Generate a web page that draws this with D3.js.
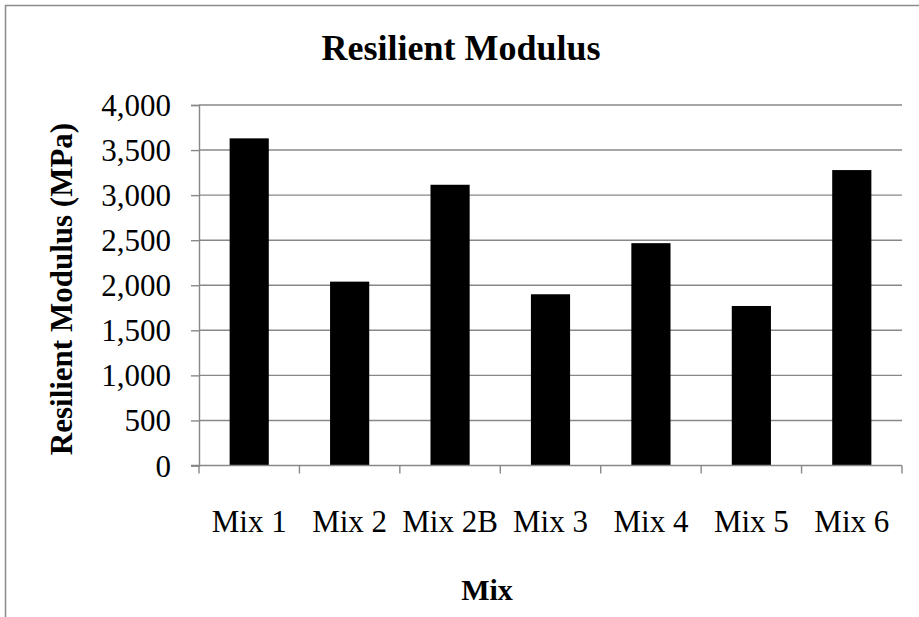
<!DOCTYPE html>
<html>
<head>
<meta charset="utf-8">
<script src="https://cdn.jsdelivr.net/npm/d3@7"></script>
<style>
  html, body { margin: 0; padding: 0; background: #fff; }
  svg { display: block; }
  text { font-family: "Liberation Serif", "Times New Roman", serif; fill: #000; }
</style>
</head>
<body>
<script>
const categories = ["Mix 1", "Mix 2", "Mix 2B", "Mix 3", "Mix 4", "Mix 5", "Mix 6"];
const values = [3630, 2040, 3115, 1900, 2467, 1770, 3278];
const yTicks = [0, 500, 1000, 1500, 2000, 2500, 3000, 3500, 4000];
const chartTitle = "Resilient Modulus";
const yTitle = "Resilient Modulus (MPa)";
const xTitle = "Mix";

const W = 919, H = 617;
const plot = { left: 199, right: 902, top: 105, bottom: 465.5 };
const gridColor = "#888888";

const svg = d3.select("body").append("svg").attr("width", W).attr("height", H);

// chart border (right and bottom edges lie outside the picture)
svg.append("rect")
  .attr("x", 5.5).attr("y", 5.5).attr("width", W + 20).attr("height", H + 20)
  .attr("fill", "#fff").attr("stroke", "#8c8c8c").attr("stroke-width", 1.5);

const x = d3.scaleBand().domain(categories).range([plot.left, plot.right]).paddingInner(0.61).paddingOuter(0.305);
const y = d3.scaleLinear().domain([0, 4000]).range([plot.bottom, plot.top]);

// gridlines
svg.append("g").selectAll("line").data(yTicks.filter(d => d > 0)).join("line")
  .attr("x1", plot.left).attr("x2", plot.right)
  .attr("y1", d => y(d)).attr("y2", d => y(d))
  .attr("stroke", gridColor).attr("stroke-width", 1.4);

// y axis
const yAxis = d3.axisLeft(y).tickValues(yTicks).tickSize(8).tickPadding(20)
  .tickFormat(d3.format(","));
const gy = svg.append("g").attr("transform", `translate(${plot.left},0)`).call(yAxis);
gy.select(".domain").attr("stroke", gridColor).attr("stroke-width", 1.4);
gy.selectAll(".tick line").attr("stroke", gridColor).attr("stroke-width", 1.4);
gy.selectAll(".tick text").style("font-size", "31px").attr("dy", "0.34em");

// bars
svg.append("g").selectAll("rect").data(values).join("rect")
  .attr("x", (d, i) => x(categories[i]))
  .attr("y", d => y(d))
  .attr("width", x.bandwidth())
  .attr("height", d => plot.bottom - y(d))
  .attr("fill", "#000");

// x axis
svg.append("line").attr("x1", plot.left - 8).attr("x2", plot.right)
  .attr("y1", plot.bottom).attr("y2", plot.bottom)
  .attr("stroke", gridColor).attr("stroke-width", 1.4);
const boundaries = d3.range(categories.length + 1).map(i => plot.left + i * (plot.right - plot.left) / categories.length);
svg.append("g").selectAll("line").data(boundaries).join("line")
  .attr("x1", d => d).attr("x2", d => d)
  .attr("y1", plot.bottom).attr("y2", plot.bottom + 8)
  .attr("stroke", gridColor).attr("stroke-width", 1.4);
svg.append("g").selectAll("text").data(categories).join("text")
  .attr("x", d => x(d) + x.bandwidth() / 2)
  .attr("y", 532)
  .attr("text-anchor", "middle")
  .style("font-size", "31px")
  .text(d => d);

// titles
svg.append("text").attr("x", 461).attr("y", 60).attr("text-anchor", "middle")
  .style("font-size", "36px").style("font-weight", "bold").text(chartTitle);
svg.append("text").attr("transform", `translate(72,289) rotate(-90)`).attr("text-anchor", "middle")
  .style("font-size", "31px").style("font-weight", "bold").text(yTitle);
svg.append("text").attr("x", 487).attr("y", 600).attr("text-anchor", "middle")
  .style("font-size", "30px").style("font-weight", "bold").text(xTitle);
</script>
</body>
</html>
